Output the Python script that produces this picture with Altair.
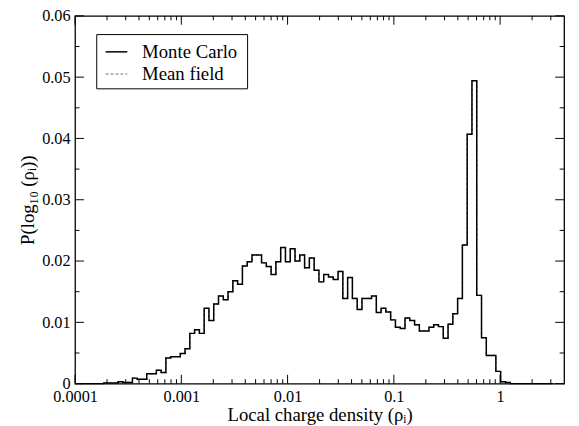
import altair as alt
import pandas as pd

# ---------------- data ----------------
series_names = ["Monte Carlo", "Mean field"]

# histogram of log10(rho): bins start at log10 = -4, width 0.045 decades
bin_start_log10 = -4.0
bin_width_log10 = 0.045

monte_carlo = [
    0, 0, 0, 0, 0, 0,
    0.0001, 0.0001, 0.0001, 0.0003, 0.0002, 0.0002,
    0.0009, 0.0007, 0.0007, 0.0016, 0.0016, 0.0022, 0.0018,
    0.0042, 0.0044, 0.0044, 0.0049, 0.0057, 0.0082, 0.0088, 0.0082,
    0.0123, 0.0103, 0.0130, 0.0143, 0.0137, 0.0150, 0.0168, 0.0162, 0.0192, 0.0199,
    0.0210, 0.0210, 0.0197, 0.0191, 0.0178, 0.0199, 0.0222, 0.0199, 0.0220, 0.0200,
    0.0210, 0.0189, 0.0205, 0.0185, 0.0166, 0.0178, 0.0174, 0.0170, 0.0183, 0.0139,
    0.0173, 0.0139, 0.0121, 0.0139, 0.0139, 0.0143, 0.0116, 0.0123, 0.0117, 0.0104,
    0.0092, 0.0090, 0.0107, 0.0103, 0.0096, 0.0086, 0.0086, 0.0092, 0.0096, 0.0093, 0.0074, 0.0097,
    0.0114, 0.0139, 0.0226, 0.0407, 0.0494, 0.0144, 0.0075, 0.0046, 0.0046, 0.0020, 0.0003, 0.0002,
    0, 0, 0, 0, 0, 0, 0, 0, 0,
]

# the mean-field curve lies on top of the Monte Carlo one everywhere
mean_field = [
    0, 0, 0, 0, 0, 0,
    0.0001, 0.0001, 0.0001, 0.0003, 0.0002, 0.0002,
    0.0009, 0.0007, 0.0007, 0.0016, 0.0016, 0.0022, 0.0018,
    0.0042, 0.0044, 0.0044, 0.0049, 0.0057, 0.0082, 0.0088, 0.0082,
    0.0123, 0.0103, 0.0130, 0.0143, 0.0137, 0.0150, 0.0168, 0.0162, 0.0192, 0.0199,
    0.0210, 0.0210, 0.0197, 0.0191, 0.0178, 0.0199, 0.0222, 0.0199, 0.0220, 0.0200,
    0.0210, 0.0189, 0.0205, 0.0185, 0.0166, 0.0178, 0.0174, 0.0170, 0.0183, 0.0139,
    0.0173, 0.0139, 0.0121, 0.0139, 0.0139, 0.0143, 0.0116, 0.0123, 0.0117, 0.0104,
    0.0092, 0.0090, 0.0107, 0.0103, 0.0096, 0.0086, 0.0086, 0.0092, 0.0096, 0.0093, 0.0074, 0.0097,
    0.0114, 0.0139, 0.0226, 0.0407, 0.0494, 0.0144, 0.0075, 0.0046, 0.0046, 0.0020, 0.0003, 0.0002,
    0, 0, 0, 0, 0, 0, 0, 0, 0,
]

x_tick_labels = [0.0001, 0.001, 0.01, 0.1, 1]
x_minor_mult = [2, 3, 4, 5, 6, 7, 8, 9]
y_tick_values = [0, 0.01, 0.02, 0.03, 0.04, 0.05, 0.06]
y_minor_values = [0.005, 0.015, 0.025, 0.035, 0.045, 0.055]
x_domain = [0.0001, 4]
y_domain = [0, 0.06]

x_title = "Local charge density (ρᵢ)"
y_title = "P(log₁₀ (ρᵢ))"

# ---------------- layout ----------------
PAD_L, PAD_T, PAD_R, PAD_B = 68, 5, 7, 40
W, H = 496, 373
FONT = "Liberation Serif"
MAJ, MIN = 9, 4.5
TOP = 8 + PAD_T  # page y of the plot's top edge


def step_frame(vals, name):
    edges = [10 ** (bin_start_log10 + bin_width_log10 * k) for k in range(len(vals) + 1)]
    return pd.DataFrame({"rho": edges, "p": list(vals) + [0.0], "series": name})


df_mc = step_frame(monte_carlo, series_names[0])
df_mf = step_frame(mean_field, series_names[1])

xs = alt.Scale(type="log", domain=x_domain, nice=False)
ys = alt.Scale(domain=y_domain, nice=False, zero=True)

x_axis = alt.Axis(
    values=x_tick_labels, format="~g", title=x_title, ticks=False, domain=False,
    grid=False, labelPadding=5, titlePadding=1, labelFont=FONT, labelFontSize=16.5,
    titleFont=FONT, titleFontSize=19, titleFontWeight="normal", labelColor="black",
    titleColor="black", labelFlush=False, labelOverlap=False,
)
y_axis = alt.Axis(
    values=y_tick_values, format="~g", title=y_title, ticks=False, domain=False,
    grid=False, labelPadding=5, titlePadding=4, labelFont=FONT, labelFontSize=16.5,
    titleFont=FONT, titleFontSize=19, titleFontWeight="normal", labelColor="black",
    titleColor="black", labelOverlap=False,
)

# first layer carries the axes
mf_line = alt.Chart(df_mf).mark_line(
    interpolate="step-after", color="#777777", strokeWidth=1.2, strokeDash=[3, 2]
).encode(
    x=alt.X("rho:Q", scale=xs, axis=x_axis),
    y=alt.Y("p:Q", scale=ys, axis=y_axis),
)

mc_line = alt.Chart(df_mc).mark_line(
    interpolate="step-after", color="black", strokeWidth=1.5
).encode(
    x=alt.X("rho:Q", scale=xs),
    y=alt.Y("p:Q", scale=ys),
)

# inward ticks on all four sides
x_major = pd.DataFrame({"v": x_tick_labels})
x_minor = pd.DataFrame({"v": [m * d for d in x_tick_labels for m in x_minor_mult if m * d < x_domain[1]]})
y_major = pd.DataFrame({"v": y_tick_values})
y_minor = pd.DataFrame({"v": y_minor_values})


def xticks(df, length):
    bottom = alt.Chart(df).mark_rule(color="black", strokeWidth=1).encode(
        x=alt.X("v:Q", scale=xs), y=alt.value(H), y2=alt.value(H - length))
    top = alt.Chart(df).mark_rule(color="black", strokeWidth=1).encode(
        x=alt.X("v:Q", scale=xs), y=alt.value(0), y2=alt.value(length))
    return [bottom, top]


def yticks(df, length):
    left = alt.Chart(df).mark_rule(color="black", strokeWidth=1).encode(
        y=alt.Y("v:Q", scale=ys), x=alt.value(0), x2=alt.value(length))
    right = alt.Chart(df).mark_rule(color="black", strokeWidth=1).encode(
        y=alt.Y("v:Q", scale=ys), x=alt.value(W), x2=alt.value(W - length))
    return [left, right]


ticks = xticks(x_major, MAJ) + xticks(x_minor, MIN) + yticks(y_major, MAJ) + yticks(y_minor, MIN)

# legend box (positions given in page pixels, converted to plot pixels)
one = pd.DataFrame({"a": [0]})
leg_box = alt.Chart(one).mark_rect(fill="white", stroke="black", strokeWidth=1).encode(
    x=alt.value(22), x2=alt.value(175), y=alt.value(32 - TOP), y2=alt.value(87 - TOP))
leg_l1 = alt.Chart(one).mark_rule(color="black", strokeWidth=1.5).encode(
    x=alt.value(31), x2=alt.value(53), y=alt.value(49.5 - TOP))
leg_l2 = alt.Chart(one).mark_rule(color="#777777", strokeWidth=1.2, strokeDash=[3, 2]).encode(
    x=alt.value(31), x2=alt.value(53), y=alt.value(72 - TOP))
leg_t1 = alt.Chart(pd.DataFrame({"t": [series_names[0]]})).mark_text(
    align="left", baseline="alphabetic", font=FONT, fontSize=19, color="black"
).encode(x=alt.value(68), y=alt.value(55.5 - TOP), text="t:N")
leg_t2 = alt.Chart(pd.DataFrame({"t": [series_names[1]]})).mark_text(
    align="left", baseline="alphabetic", font=FONT, fontSize=19, color="black"
).encode(x=alt.value(68), y=alt.value(78 - TOP), text="t:N")

chart = alt.layer(
    mf_line, mc_line, *ticks, leg_box, leg_l1, leg_l2, leg_t1, leg_t2
).properties(
    width=W, height=H,
    autosize=alt.AutoSizeParams(type="none"),
    padding={"left": PAD_L, "top": PAD_T, "right": PAD_R, "bottom": PAD_B},
    background="white",
).configure_view(stroke="black", strokeWidth=1.3)

chart.save("out.html", embed_options={"renderer": "svg", "actions": False})
